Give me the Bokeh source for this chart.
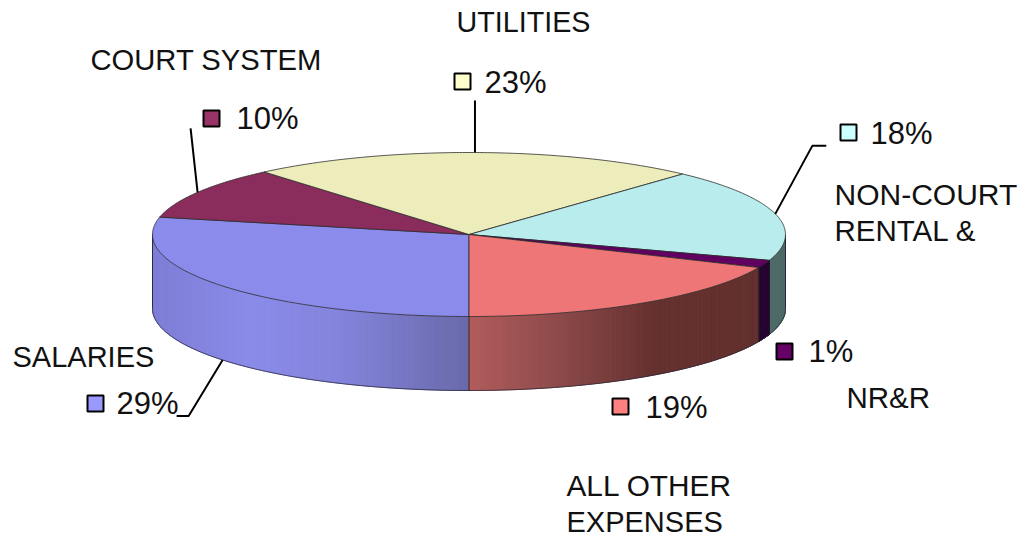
import numpy as np
from bokeh.plotting import figure
from bokeh.embed import file_html
from bokeh.resources import INLINE
from bokeh.core.properties import value

# ---- data (order: clockwise from 6 o'clock)
categories = ["SALARIES", "COURT SYSTEM", "UTILITIES", "NON-COURT RENTAL &", "NR&R", "ALL OTHER EXPENSES"]
shares = [28.4, 10.4, 23.0, 18.3, 1.5, 18.4]
percent_labels = ["29%", "10%", "23%", "18%", "1%", "19%"]
top_colors = ["#8b8bec", "#8b2d5c", "#ededbb", "#b9eded", "#600060", "#ee7676"]
key_colors = ["#9999ff", "#993366", "#ffffcc", "#ccffff", "#660066", "#ff8080"]

# ---- layout (page pixels)
CX, CY, RX, RY, DEPTH = 468.5, 234.0, 316.5, 82.0, 74.0
KEY = [(95, 403), (211, 118), (462, 81), (848, 132), (784, 351), (620, 406)]
PCT = [(116, 403), (236, 118), (484, 82), (870, 133), (808, 351), (645, 407)]
NAMES = [
    [("SALARIES", 12, 356, 29)],
    [("COURT SYSTEM", 90, 59, 29.2)],
    [("UTILITIES", 456, 21, 28.7)],
    [("NON-COURT", 834, 194, 30), ("RENTAL &", 834, 230, 29.5)],
    [("NR&R", 846, 397, 29.5)],
    [("ALL OTHER", 566, 485, 29.8), ("EXPENSES", 566, 521, 29)],
]
# gradient stops on the side wall: x position, rgb
SIDE_STOPS = {
    0: [(152, (126, 126, 214)), (250, (139, 139, 234)), (340, (132, 132, 220)), (469, (105, 105, 170))],
    3: [(760, (80, 108, 104)), (790, (80, 108, 104))],
    4: [(750, (42, 8, 50)), (770, (42, 8, 50))],
    5: [(469, (178, 92, 92)), (560, (140, 74, 74)), (650, (102, 50, 48)), (765, (98, 48, 46))],
}


def rim(theta_deg, drop=0.0):
    t = np.radians(theta_deg)
    return CX + RX * np.sin(t), CY - RY * np.cos(t) + drop


fr = np.cumsum([0] + shares) / sum(shares)
edges = 180 + 360 * fr  # clockwise from 12 o'clock

p = figure(width=1020, height=537, x_range=(0, 1020), y_range=(537, 0),
           output_backend="svg", toolbar_location=None, min_border=0,
           outline_line_color=None, background_fill_color="white")
p.xaxis.visible = False
p.yaxis.visible = False
p.grid.visible = False

# side walls: vertical strips shaded by position
for i, stops in SIDE_STOPS.items():
    a, b = edges[i], edges[i + 1]
    if a >= 360:
        a, b = a - 360, b - 360
    a, b = max(a, 90), min(b, 270)
    xs, ys, cols = [], [], []
    grid = np.linspace(a, b, 90)
    sx = [s[0] for s in stops]
    for t0, t1 in zip(grid[:-1], grid[1:]):
        x0, y0 = rim(t0)
        x1, y1 = rim(t1)
        xs.append([x0, x1, x1, x0])
        ys.append([y0, y1, y1 + DEPTH, y0 + DEPTH])
        xm = (x0 + x1) / 2
        rgb = [int(np.interp(xm, sx, [s[1][k] for s in stops])) for k in range(3)]
        cols.append("#%02x%02x%02x" % tuple(rgb))
    p.patches(xs, ys, fill_color=cols, line_color=cols, line_width=1)

# side wall outlines
front = np.linspace(90, 270, 181)
fx, fy = rim(front, DEPTH)
p.line(fx, fy, line_color="#2a2a3a", line_width=1, line_alpha=0.75)
for t in [90, 270, edges[4] - 360, edges[5] - 360, 180]:
    x, y = rim(t)
    p.line([x, x], [y, y + DEPTH], line_color="#1c1c28", line_width=1, line_alpha=0.85)

# top faces
xs, ys = [], []
for a, b in zip(edges[:-1], edges[1:]):
    t = np.linspace(a, b, max(int(b - a) * 2, 4))
    x, y = rim(t)
    xs.append([CX] + list(x))
    ys.append([CY] + list(y))
p.patches(xs, ys, fill_color=top_colors, line_color="#2c2c2c", line_width=1, line_alpha=0.8)

# leader lines: leave the rim at each slice's middle
mid = (edges[:-1] + edges[1:]) / 2
x0, y0 = rim(mid[0], DEPTH)
p.line([x0, x0 - 34, x0 - 46], [y0, y0 + 56, y0 + 56], line_color="black", line_width=2)
x1, y1 = rim(mid[1])
p.line([x1, x1 - 7], [y1, y1 - 64], line_color="black", line_width=2)
x2, y2 = rim(mid[2])
p.line([x2, x2], [y2, y2 - 52], line_color="black", line_width=2)
x3, y3 = rim(mid[3])
p.line([x3, x3 + 37, x3 + 51], [y3, y3 - 68, y3 - 68], line_color="black", line_width=2)

# legend keys
p.rect([k[0] for k in KEY], [k[1] for k in KEY], width=16, height=16,
       fill_color=key_colors, line_color="black", line_width=2)

FONT = value("Liberation Sans")
p.text([q[0] for q in PCT], [q[1] for q in PCT], text=percent_labels, text_font=FONT,
       text_font_size="31px", text_baseline="middle", text_align="left", text_color="#111111")
for group in NAMES:
    for label, lx, ly, size in group:
        p.text([lx], [ly], text=[label], text_font=FONT, text_font_size=f"{size}px",
               text_baseline="middle", text_align="left", text_color="#111111")

open("out.html", "w").write(file_html(p, INLINE))
